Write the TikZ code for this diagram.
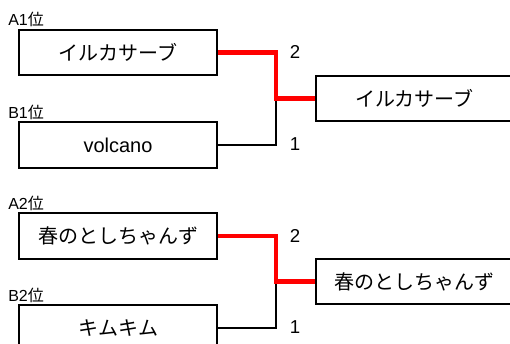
\documentclass[tikz,border=0pt]{standalone}
\usepackage{fontspec}
\setmainfont{Liberation Sans}
\newfontfamily\jp{Noto Sans CJK JP}
\usetikzlibrary{positioning}
\begin{document}
\begin{tikzpicture}[x=0.75pt,y=-0.75pt]
   \tikzset{team/.style={draw,line width=1.5pt,minimum width=148.5pt,minimum height=34pt,inner sep=0pt,font={\fontsize{15pt}{15pt}\selectfont}},
     seed/.style={inner sep=0pt,anchor=base west,font={\fontsize{12pt}{12pt}\selectfont}},
     score/.style={inner sep=0pt,font={\fontsize{14pt}{14pt}\selectfont}},
     lose/.style={line width=1.5pt},
     win/.style={red,line width=3.5pt}}
    \useasboundingbox (0,0) rectangle (510,343);
    \clip (0,0) rectangle (510,343);
    \fill[white] (0,0) rectangle (510,343);
    % first bracket
    \node[team] (a1) at (118,52.5) {\jp イルカサーブ};
    \node[team] (b1) at (118,145) {volcano};
    \node[team] (w1) at (414.5,98.5) {\jp イルカサーブ};
    \node[seed] (la1) at ([xshift=-7.5pt,yshift=2.5pt]a1.north west) {A1{\jp 位}};
    \node[seed] (lb1) at ([xshift=-7.5pt,yshift=2.5pt]b1.north west) {B1{\jp 位}};
    \coordinate (j1) at (276,98.5);
    \draw[lose] (b1.east) -| (j1);
    \draw[win] (a1.east) -| (j1) -- (w1.west);
    \node[score] (sa1) at (295,52) {2};
    \node[score] (sb1) at (295,144) {1};
    % second bracket
    \node[team] (a2) at (118,236) {\jp 春のとしちゃんず};
    \node[team] (b2) at (118,328) {\jp キムキム};
    \node[team] (w2) at (414.5,281.5) {\jp 春のとしちゃんず};
    \node[seed] (la2) at ([xshift=-7.5pt,yshift=2.5pt]a2.north west) {A2{\jp 位}};
    \node[seed] (lb2) at ([xshift=-7.5pt,yshift=2.5pt]b2.north west) {B2{\jp 位}};
    \coordinate (j2) at (276,281.5);
    \draw[lose] (b2.east) -| (j2);
    \draw[win] (a2.east) -| (j2) -- (w2.west);
    \node[score] (sa2) at (295,236) {2};
    \node[score] (sb2) at (295,327) {1};
\end{tikzpicture}
\end{document}
